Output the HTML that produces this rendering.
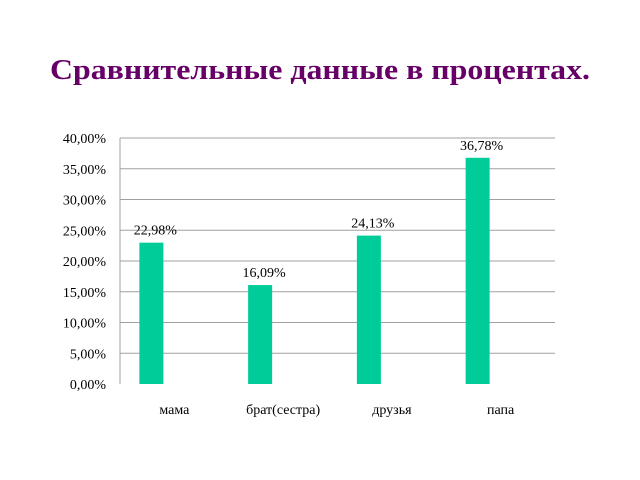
<!DOCTYPE html>
<html><head><meta charset="utf-8"><style>
html,body{margin:0;padding:0;background:#fff;}
svg{display:block;font-family:"Liberation Serif","DejaVu Serif",serif;}
</style></head><body>
<svg id="chart" width="640" height="480" viewBox="0 0 640 480">
<text x="320" y="79" text-anchor="middle" font-size="29" font-weight="bold" fill="#660066" textLength="540" lengthAdjust="spacingAndGlyphs">Сравнительные данные в процентах.</text>
<g id="grid"></g><g id="bars"></g><g id="labels"></g>
</svg>
<script>
const categories = ["мама", "брат(сестра)", "друзья", "папа"];
const values = [22.98, 16.09, 24.13, 36.78];
const valueLabels = ["22,98%", "16,09%", "24,13%", "36,78%"];
const ticks = [0, 5, 10, 15, 20, 25, 30, 35, 40];
const tickLabels = ["0,00%", "5,00%", "10,00%", "15,00%", "20,00%", "25,00%", "30,00%", "35,00%", "40,00%"];

const NS = "http://www.w3.org/2000/svg";
const x0 = 120, x1 = 555, yTop = 138, yBot = 384, yMax = 40;
const band = (x1 - x0) / categories.length;
const yScale = v => yBot - (v / yMax) * (yBot - yTop);
const catCenter = i => x0 + (i + 0.5) * band;
const barCenter = i => catCenter(i) - 23;
function mk(tag, attrs, parent) { const e = document.createElementNS(NS, tag); for (const k in attrs) e.setAttribute(k, attrs[k]); parent.appendChild(e); return e; }
const grid = document.getElementById('grid'), bars = document.getElementById('bars'), labels = document.getElementById('labels');

ticks.forEach((t, i) => {
  const y = yScale(t);
  if (t > 0) {
    const l = mk('line', {x1: x0, x2: x1, y1: y, y2: y, stroke: '#a0a0a0', 'stroke-width': 1}, grid);
    
    
  }
  const tx = mk('text', {x: 106, y: y + 5, 'text-anchor': 'end', 'font-size': 14, fill: '#000'}, labels);
  tx.textContent = tickLabels[i];
  
  
});
const ax = mk('line', {x1: x0, x2: x0, y1: yTop, y2: yBot, stroke: '#a0a0a0', 'stroke-width': 1}, grid);



values.forEach((v, i) => {
  const c = barCenter(i), y = yScale(v);
  const r = mk('rect', {x: c - 12, y: y, width: 24, height: yBot - y, fill: '#00cc99'}, bars);
  
  
  const vl = mk('text', {x: c + 4, y: y - 8, 'text-anchor': 'middle', 'font-size': 14, fill: '#000'}, labels);
  vl.textContent = valueLabels[i];
  
  
  const cl = mk('text', {x: catCenter(i), y: 414, 'text-anchor': 'middle', 'font-size': 14, fill: '#000'}, labels);
  cl.textContent = categories[i];
  
  
});
</script>
</body></html>
